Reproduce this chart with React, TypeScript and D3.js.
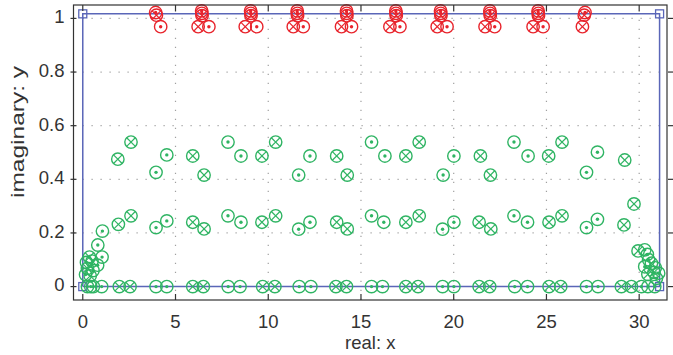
import React from "react";
import * as d3 from "d3";

// ---- data ----
const xTicks = [0, 5, 10, 15, 20, 25, 30];
const yTicks = [0, 0.2, 0.4, 0.6, 0.8, 1];
const yTickLabels = ["0", "0.2", "0.4", "0.6", "0.8", "1"];

// contour rectangle (corners)
const contour: [number, number][] = [
  [0, 0], [31.1, 0], [31.1, 1.017], [0, 1.017],
];

// red: roots near Im = 1
const redDot: [number, number][] = [
  [3.93, 1.022], [4.2, 0.969],
  [6.41, 1.028], [6.42, 1.019], [6.8, 0.969],
  [9.05, 1.028], [9.06, 1.019], [9.38, 0.969],
  [11.56, 1.028], [11.57, 1.019], [11.89, 0.969],
  [14.22, 1.028], [14.23, 1.019], [14.49, 0.969],
  [16.88, 1.028], [16.89, 1.019], [17.1, 0.969],
  [19.29, 1.028], [19.3, 1.019], [19.64, 0.969],
  [21.95, 1.028], [21.96, 1.019], [22.21, 0.969],
  [24.55, 1.028], [24.56, 1.019], [24.82, 0.969],
  [27.08, 1.022],
];
const redCross: [number, number][] = [
  [3.97, 1.012],
  [6.43, 1.01], [6.22, 0.969],
  [9.07, 1.01], [8.76, 0.969],
  [11.58, 1.01], [11.35, 0.969],
  [14.24, 1.01], [13.95, 0.969],
  [16.9, 1.01], [16.56, 0.969],
  [19.31, 1.01], [19.11, 0.969],
  [21.97, 1.01], [21.69, 0.969],
  [24.57, 1.01], [24.28, 0.969],
  [27.04, 1.012], [26.94, 0.969],
];

// green: roots in the strip
const greenDot: [number, number][] = [
  // upper band
  [3.95, 0.426], [4.53, 0.491], [7.83, 0.539], [8.53, 0.487],
  [11.64, 0.416], [12.25, 0.487], [15.57, 0.539], [16.29, 0.487],
  [19.43, 0.416], [20.01, 0.487], [23.25, 0.539], [24.01, 0.487],
  [27.16, 0.426], [27.75, 0.501],
  // lower band
  [0.81, 0.155], [1.06, 0.207], [3.95, 0.22], [4.53, 0.245],
  [7.83, 0.264], [8.53, 0.24], [11.64, 0.214], [12.25, 0.24],
  [15.57, 0.264], [16.23, 0.24], [19.4, 0.214], [20.01, 0.24],
  [23.25, 0.264], [23.98, 0.24], [27.16, 0.22], [27.75, 0.251],
  // clusters near the ends
  [1.04, 0.11], [0.8, 0.08], [0.2, 0.09], [0.55, 0.06], [0.15, 0.045],
  [30.3, 0.137], [30.44, 0.12], [30.51, 0.1], [30.3, 0.074],
  [30.87, 0.07], [30.93, 0.031], [31.05, 0.05],
  // real axis
  [0.25, 0], [0.43, 0], [0.57, 0], [1.02, 0], [3.95, 0], [4.53, 0],
  [7.84, 0], [8.48, 0], [11.67, 0], [12.3, 0], [15.57, 0], [16.16, 0],
  [19.4, 0], [20.01, 0], [23.29, 0], [23.98, 0], [27.16, 0], [27.78, 0],
  [30.12, 0], [30.47, 0], [30.84, 0],
];
const greenCross: [number, number][] = [
  // upper band
  [1.89, 0.475], [2.6, 0.539], [5.93, 0.487], [6.54, 0.416],
  [9.66, 0.487], [10.4, 0.539], [13.69, 0.487], [14.26, 0.416],
  [17.42, 0.487], [18.14, 0.539], [21.44, 0.487], [21.98, 0.416],
  [25.12, 0.487], [25.84, 0.539], [29.22, 0.472],
  // lower band
  [1.92, 0.232], [2.6, 0.264], [5.93, 0.24], [6.54, 0.215],
  [9.66, 0.24], [10.4, 0.264], [13.69, 0.24], [14.26, 0.215],
  [17.42, 0.24], [18.14, 0.264], [21.37, 0.24], [22.0, 0.215],
  [25.14, 0.24], [25.84, 0.264], [29.18, 0.23], [29.72, 0.308],
  // clusters near the ends
  [0.36, 0.11], [0.5, 0.095], [0.25, 0.068], [0.4, 0.04],
  [29.94, 0.133], [30.66, 0.087], [30.47, 0.046], [30.8, 0.053],
  // real axis
  [1.97, 0], [2.55, 0], [5.93, 0], [6.5, 0], [9.7, 0], [10.36, 0],
  [13.65, 0], [14.22, 0], [17.42, 0], [18.08, 0], [21.37, 0], [21.94, 0],
  [25.14, 0], [25.77, 0], [29.04, 0], [29.58, 0],
];

const W = 673;
const H = 355;
const RED = "#e8242c";
const GREEN = "#2fb463";
const BLUE = "#5a66b8";
const FONT = "'Liberation Sans', Arial, sans-serif";

function DotMarker({ cx, cy, color }: { cx: number; cy: number; color: string }) {
  return (
    <g>
      <circle cx={cx} cy={cy} r={6.2} fill="none" stroke={color} strokeWidth={1.4} />
      <circle cx={cx} cy={cy} r={1.7} fill={color} />
    </g>
  );
}

function CrossMarker({ cx, cy, color }: { cx: number; cy: number; color: string }) {
  const d = 4.3;
  return (
    <g>
      <circle cx={cx} cy={cy} r={6.2} fill="none" stroke={color} strokeWidth={1.4} />
      <line x1={cx - d} y1={cy - d} x2={cx + d} y2={cy + d} stroke={color} strokeWidth={1.2} />
      <line x1={cx - d} y1={cy + d} x2={cx + d} y2={cy - d} stroke={color} strokeWidth={1.2} />
    </g>
  );
}

export default function App() {
  const x = d3.scaleLinear().domain([-0.5, 31.5]).range([73.5, 667]);
  const y = d3.scaleLinear().domain([-0.05, 1.05]).range([300, 5]);
  const [x0, x1] = x.range();
  const [yb, yt] = y.range();

  const rectPath = d3.line()(contour.concat([contour[0]]).map(([a, b]) => [x(a), y(b)] as [number, number]));

  return (
    <svg
      width={W}
      height={H}
      style={{ position: "absolute", left: 0, top: 0, background: "#fff", display: "block" }}
      fontFamily={FONT}
    >
      <rect x={0} y={0} width={W} height={H} fill="#fff" />
      {/* grid */}
      <g stroke="#a0a0a0" strokeWidth={1.2} strokeDasharray="1.2 7.8">
        {xTicks.filter((t) => t > 0).map((t) => (
          <line key={"gx" + t} x1={x(t)} x2={x(t)} y1={yb} y2={yt} />
        ))}
        {yTicks.filter((t) => t > 0).map((t) => (
          <line key={"gy" + t} x1={x0} x2={x1} y1={y(t)} y2={y(t)} />
        ))}
      </g>

      {/* contour */}
      <path d={rectPath || ""} fill="none" stroke={BLUE} strokeWidth={1.5} />
      {contour.map(([a, b], i) => (
        <rect key={"c" + i} x={x(a) - 4} y={y(b) - 4} width={8} height={8} fill="none" stroke={BLUE} strokeWidth={1.3} />
      ))}

      {/* markers */}
      {greenDot.map(([a, b], i) => (
        <DotMarker key={"gd" + i} cx={x(a)} cy={y(b)} color={GREEN} />
      ))}
      {greenCross.map(([a, b], i) => (
        <CrossMarker key={"gc" + i} cx={x(a)} cy={y(b)} color={GREEN} />
      ))}
      {redDot.map(([a, b], i) => (
        <DotMarker key={"rd" + i} cx={x(a)} cy={y(b)} color={RED} />
      ))}
      {redCross.map(([a, b], i) => (
        <CrossMarker key={"rc" + i} cx={x(a)} cy={y(b)} color={RED} />
      ))}

      {/* frame */}
      <rect x={x0} y={yt} width={x1 - x0} height={yb - yt} fill="none" stroke="#333" strokeWidth={1.2} />

      {/* ticks */}
      <g stroke="#333" strokeWidth={1.2}>
        {xTicks.map((t) => (
          <g key={"tx" + t}>
            <line x1={x(t)} x2={x(t)} y1={yb} y2={yb - 6} />
            <line x1={x(t)} x2={x(t)} y1={yt} y2={yt + 6} />
          </g>
        ))}
        {yTicks.map((t) => (
          <g key={"ty" + t}>
            <line x1={x0 - 3} x2={x0 + 3} y1={y(t)} y2={y(t)} />
            <line x1={x1 + 1} x2={x1 + 6} y1={y(t)} y2={y(t)} />
          </g>
        ))}
      </g>

      {/* tick labels */}
      <g fill="#333" fontSize={18.5}>
        {xTicks.map((t) => (
          <text key={"lx" + t} x={x(t)} y={yb + 23} textAnchor="middle" dominantBaseline="middle">
            {String(t)}
          </text>
        ))}
        {yTicks.map((t, i) => (
          <text key={"ly" + t} x={x0 - 9} y={y(t)} textAnchor="end" dominantBaseline="middle">
            {yTickLabels[i]}
          </text>
        ))}
      </g>

      {/* axis titles */}
      <text x={(x0 + x1) / 2} y={344} fill="#333" fontSize={18.5} textAnchor="middle" dominantBaseline="middle">
        real: x
      </text>
      <text
        transform={`translate(19, 132) rotate(-90)`}
        fill="#333"
        fontSize={18.5}
        textAnchor="middle"
        dominantBaseline="middle"
        textLength={132}
        lengthAdjust="spacingAndGlyphs"
      >
        imaginary: y
      </text>
    </svg>
  );
}
